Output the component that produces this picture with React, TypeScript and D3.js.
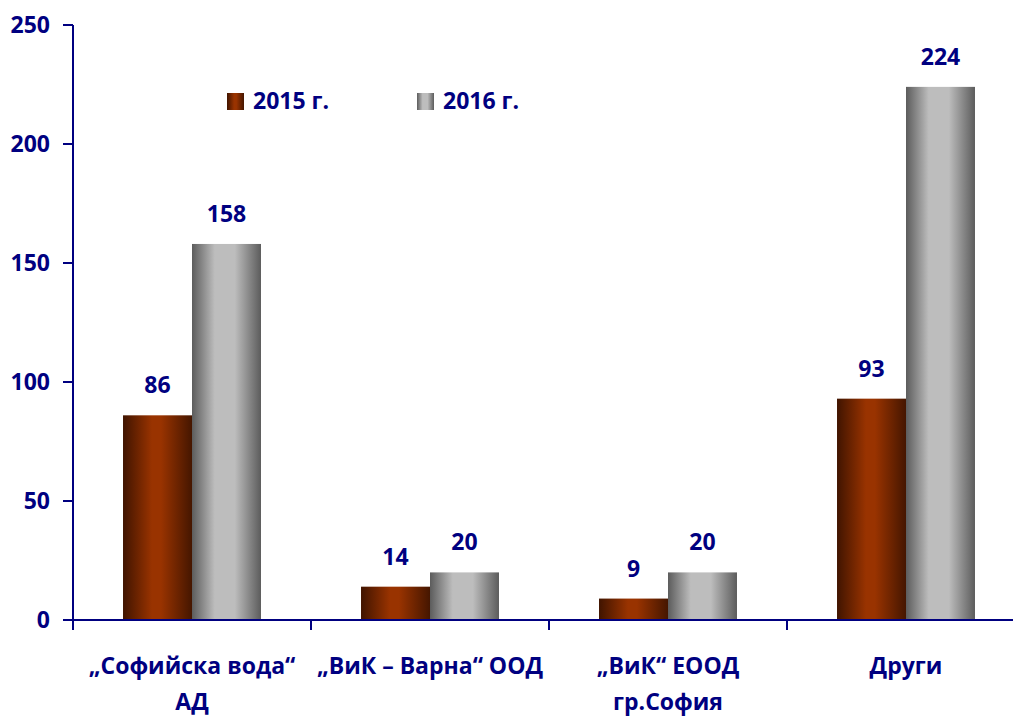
import React from "react";
import * as d3 from "d3";

const categories: string[][] = [
  ["„Софийска вода“", "АД"],
  ["„ВиК – Варна“ ООД"],
  ["„ВиК“ ЕООД", "гр.София"],
  ["Други"],
];
const seriesNames = ["2015 г.", "2016 г."];
const values2015 = [86, 14, 9, 93];
const values2016 = [158, 20, 20, 224];
const yTicks = [0, 50, 100, 150, 200, 250];

const NAVY = "#000080";
const FONT = "'Open Sans', 'Noto Sans', sans-serif";

export default function App() {
  const W = 1013;
  const H = 716;
  const left = 73;
  const step = 238;
  const x0 = d3
    .scaleBand<number>()
    .domain(categories.map((_, i) => i))
    .range([left, left + step * categories.length])
    .paddingInner(0)
    .paddingOuter(0);
  const x1 = d3
    .scaleBand<string>()
    .domain(seriesNames)
    .range([0, x0.bandwidth()])
    .paddingInner(0)
    .paddingOuter(0.725);
  const y = d3.scaleLinear().domain([0, 250]).range([620, 25]);
  const series = [values2015, values2016];
  const grads = ["gBrown", "gGray"];

  return (
    <svg
      width={W}
      height={H}
      style={{ position: "absolute", left: 0, top: 0, background: "#fff" }}
      fontFamily={FONT}
      fontWeight="bold"
    >
      <defs>
        <linearGradient id="gBrown" x1="0" x2="1" y1="0" y2="0">
          <stop offset="0%" stopColor="#401400" />
          <stop offset="42%" stopColor="#993300" />
          <stop offset="55%" stopColor="#993300" />
          <stop offset="100%" stopColor="#451600" />
        </linearGradient>
        <linearGradient id="gGray" x1="0" x2="1" y1="0" y2="0">
          <stop offset="0%" stopColor="#5c5c5c" />
          <stop offset="33%" stopColor="#bdbdbd" />
          <stop offset="62%" stopColor="#bdbdbd" />
          <stop offset="100%" stopColor="#5c5c5c" />
        </linearGradient>
      </defs>

      {/* bars */}
      {series.map((vals, si) =>
        vals.map((v, ci) => {
          const bx = (x0(ci) as number) + (x1(seriesNames[si]) as number);
          const bw = x1.bandwidth();
          return (
            <g key={`${si}-${ci}`}>
              <rect
                x={bx}
                y={y(v)}
                width={bw}
                height={y(0) - y(v)}
                fill={`url(#${grads[si]})`}
              />
              <text
                x={bx + bw / 2}
                y={y(v) - 22}
                textAnchor="middle"
                fontSize={23}
                fill={NAVY}
              >
                {v}
              </text>
            </g>
          );
        })
      )}

      {/* y axis */}
      <line x1={left} x2={left} y1={y(250)} y2={y(0) + 10} stroke={NAVY} strokeWidth={2} />
      {yTicks.map((t) => (
        <g key={t}>
          <line x1={left - 10} x2={left} y1={y(t)} y2={y(t)} stroke={NAVY} strokeWidth={2} />
          <text
            x={50}
            y={y(t)}
            dy="0.36em"
            textAnchor="end"
            fontSize={23}
            fill={NAVY}
          >
            {t}
          </text>
        </g>
      ))}

      {/* x axis */}
      <line x1={left - 10} x2={W} y1={y(0)} y2={y(0)} stroke={NAVY} strokeWidth={2} />
      {d3.range(categories.length + 1).map((i) => (
        <line
          key={i}
          x1={left + i * step}
          x2={left + i * step}
          y1={y(0)}
          y2={y(0) + 10}
          stroke={NAVY}
          strokeWidth={2}
        />
      ))}
      {categories.map((lines, ci) => (
        <text
          key={ci}
          x={(x0(ci) as number) + x0.bandwidth() / 2}
          y={674}
          textAnchor="middle"
          fontSize={23}
          fill={NAVY}
        >
          {lines.map((ln, li) => (
            <tspan key={li} x={(x0(ci) as number) + x0.bandwidth() / 2} dy={li === 0 ? 0 : 36}>
              {ln}
            </tspan>
          ))}
        </text>
      ))}

      {/* legend */}
      {seriesNames.map((s, i) => {
        const lx = [227, 417][i];
        return (
          <g key={s}>
            <rect x={lx} y={93} width={17} height={17} fill={`url(#${grads[i]})`} />
            <text x={lx + 26} y={109} fontSize={23} fill={NAVY}>
              {s}
            </text>
          </g>
        );
      })}
    </svg>
  );
}
